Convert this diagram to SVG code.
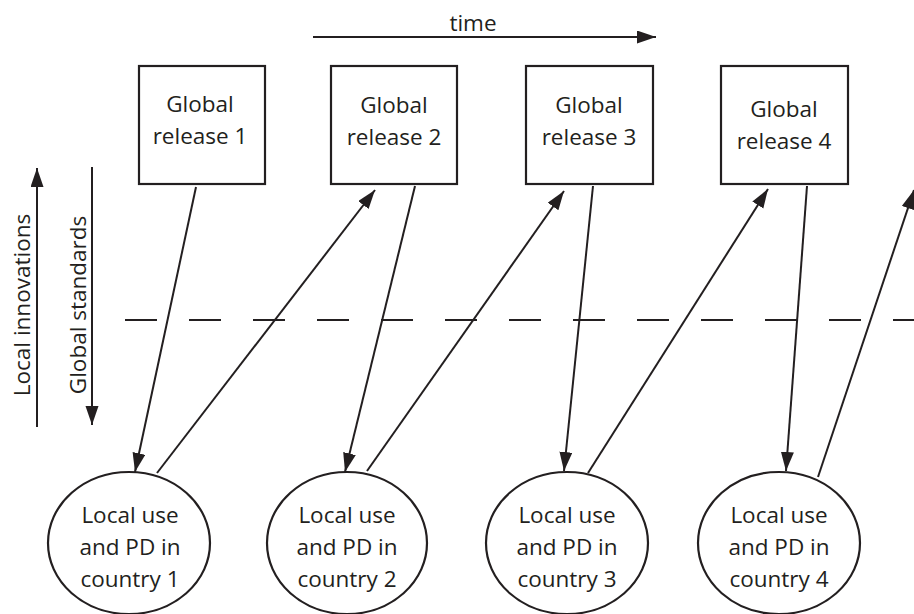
<svg xmlns="http://www.w3.org/2000/svg" width="914" height="614" viewBox="0 0 914 614">
  <style>
    .shape { fill: #ffffff; stroke: #231f20; stroke-width: 2.2; }
    .label { font-family: "Open Sans", "Noto Sans", "Liberation Sans", sans-serif; font-size: 22.5px; fill: #231f20; text-anchor: middle; }
    .link { fill: none; stroke: #231f20; stroke-width: 2; }
    .arrow { fill: none; stroke: #231f20; stroke-width: 2; marker-end: url(#head); }
    .divider { fill: none; stroke: #231f20; stroke-width: 2; stroke-dasharray: 32 32; }
  </style>
  <defs>
    <marker id="head" markerUnits="userSpaceOnUse" markerWidth="20" markerHeight="14" refX="19" refY="6.5" orient="auto">
      <path d="M0,0 L19,6.5 L0,13 z" fill="#231f20"/>
    </marker>
  </defs>
  <rect width="914" height="614" fill="#ffffff"/>

  <!-- time axis -->
  <g id="time-axis">
    <line class="arrow" x1="313" y1="37" x2="656" y2="37"/>
    <text class="label" x="473" y="31">time</text>
  </g>

  <!-- vertical axes -->
  <g id="local-innovations-axis">
    <line class="arrow" x1="37" y1="427" x2="37" y2="168"/>
    <text class="label" transform="translate(30,305) rotate(-90)">Local innovations</text>
  </g>
  <g id="global-standards-axis">
    <line class="arrow" x1="92" y1="167" x2="92" y2="425"/>
    <text class="label" transform="translate(86,305) rotate(-90)">Global standards</text>
  </g>

  <!-- boundary between global and local levels -->
  <line class="divider" x1="125" y1="320" x2="914" y2="320"/>

  <!-- global releases -->
  <g id="global-release-1">
    <rect class="shape" x="139" y="66" width="126" height="118"/>
    <text class="label" x="200" y="112">Global</text>
    <text class="label" x="200" y="144">release 1</text>
  </g>
  <g id="global-release-2">
    <rect class="shape" x="331" y="66" width="126" height="118"/>
    <text class="label" x="394" y="113">Global</text>
    <text class="label" x="394" y="145">release 2</text>
  </g>
  <g id="global-release-3">
    <rect class="shape" x="526" y="66" width="127" height="118"/>
    <text class="label" x="589" y="113">Global</text>
    <text class="label" x="589" y="145">release 3</text>
  </g>
  <g id="global-release-4">
    <rect class="shape" x="721" y="66" width="127" height="118"/>
    <text class="label" x="784" y="117">Global</text>
    <text class="label" x="784" y="149">release 4</text>
  </g>

  <!-- local use per country -->
  <g id="local-use-1">
    <ellipse class="shape" cx="129" cy="543" rx="81" ry="71"/>
    <text class="label" x="130" y="523">Local use</text>
    <text class="label" x="130" y="555">and PD in</text>
    <text class="label" x="130" y="587">country 1</text>
  </g>
  <g id="local-use-2">
    <ellipse class="shape" cx="347" cy="543" rx="80" ry="71"/>
    <text class="label" x="347" y="523">Local use</text>
    <text class="label" x="347" y="555">and PD in</text>
    <text class="label" x="347" y="587">country 2</text>
  </g>
  <g id="local-use-3">
    <ellipse class="shape" cx="567" cy="543" rx="81" ry="71"/>
    <text class="label" x="567" y="523">Local use</text>
    <text class="label" x="567" y="555">and PD in</text>
    <text class="label" x="567" y="587">country 3</text>
  </g>
  <g id="local-use-4">
    <ellipse class="shape" cx="779" cy="543" rx="81" ry="71"/>
    <text class="label" x="779" y="523">Local use</text>
    <text class="label" x="779" y="555">and PD in</text>
    <text class="label" x="779" y="587">country 4</text>
  </g>

  <!-- connectors -->
  <g id="connectors">
    <!-- global standards flowing down -->
    <line class="arrow" x1="196" y1="187" x2="135" y2="472"/>
    <line class="arrow" x1="415" y1="186" x2="345" y2="472"/>
    <line class="arrow" x1="593" y1="186" x2="564" y2="471"/>
    <line class="arrow" x1="807" y1="186" x2="786" y2="471"/>
    <!-- local innovations flowing up -->
    <line class="arrow" x1="157" y1="473" x2="375" y2="190"/>
    <line class="arrow" x1="367" y1="471" x2="564" y2="191"/>
    <line class="arrow" x1="588" y1="473" x2="768" y2="189"/>
    <line class="arrow" x1="818" y1="477" x2="914" y2="190"/>
  </g>
</svg>
